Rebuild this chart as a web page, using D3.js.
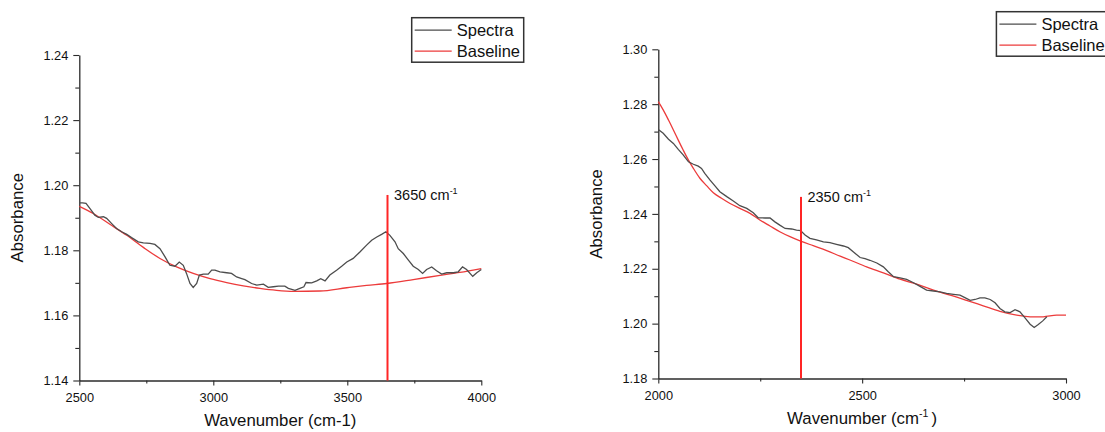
<!DOCTYPE html>
<html>
<head>
<meta charset="utf-8">
<script src="https://cdn.jsdelivr.net/npm/d3@7"></script>
<style>
  body { margin: 0; background: #fff; }
  svg { font-family: "Liberation Sans", Arial, sans-serif; }
</style>
</head>
<body>
<svg id="chart" width="1105" height="432"></svg>
<script>
const leftSpectra = [[2500,1.1946],[2512,1.1946],[2525,1.1944],[2540,1.1928],[2558,1.1908],[2571,1.1901],[2590,1.1903],[2602,1.1898],[2621,1.1882],[2639,1.1867],[2658,1.1857],[2677,1.1849],[2695,1.1839],[2720,1.1826],[2739,1.1823],[2764,1.1821],[2782,1.1818],[2801,1.1805],[2820,1.178],[2838,1.1754],[2857,1.1751],[2873,1.1764],[2888,1.1754],[2900,1.1729],[2913,1.1698],[2925,1.1686],[2938,1.1698],[2948,1.1724],[2963,1.1727],[2981,1.1727],[2994,1.1739],[3006,1.1739],[3025,1.1734],[3050,1.1731],[3068,1.1729],[3087,1.1718],[3106,1.1713],[3118,1.171],[3143,1.1698],[3162,1.1693],[3187,1.1696],[3205,1.1686],[3224,1.1688],[3243,1.169],[3267,1.169],[3280,1.1683],[3305,1.1677],[3323,1.1683],[3338,1.1688],[3346,1.1701],[3367,1.17],[3386,1.1706],[3401,1.1713],[3417,1.1706],[3435,1.1724],[3460,1.1739],[3479,1.1751],[3498,1.1764],[3522,1.1775],[3547,1.1795],[3572,1.1816],[3591,1.1831],[3610,1.1841],[3628,1.1849],[3644,1.1857],[3659,1.1846],[3678,1.1826],[3690,1.1805],[3709,1.179],[3728,1.177],[3746,1.1751],[3765,1.1741],[3781,1.1729],[3796,1.1741],[3815,1.1749],[3833,1.1737],[3852,1.1727],[3871,1.1731],[3896,1.1731],[3914,1.1734],[3930,1.1749],[3945,1.1741],[3968,1.172],[3983,1.1731],[4000,1.1741]];
const leftBaseline = [[2500,1.1935],[2552,1.1913],[2614,1.188],[2677,1.1846],[2739,1.1809],[2801,1.1775],[2863,1.1749],[2925,1.1729],[2988,1.1713],[3050,1.1701],[3112,1.1691],[3174,1.1683],[3236,1.1677],[3299,1.1674],[3398,1.1675],[3498,1.1685],[3572,1.1692],[3647,1.1698],[3746,1.171],[3846,1.1723],[3920,1.1732],[4000,1.1744]];

const rightSpectra = [[2000,1.2708],[2012,1.2694],[2025,1.2672],[2037,1.2657],[2049,1.2635],[2061,1.2615],[2074,1.259],[2086,1.2581],[2098,1.2574],[2106,1.2566],[2114,1.2548],[2127,1.2523],[2139,1.2502],[2151,1.2481],[2168,1.2463],[2184,1.2447],[2200,1.243],[2217,1.242],[2233,1.2404],[2245,1.2386],[2262,1.2385],[2274,1.2385],[2286,1.2371],[2298,1.2359],[2311,1.2347],[2327,1.2345],[2339,1.2341],[2349,1.2339],[2360,1.2323],[2372,1.2311],[2388,1.2305],[2405,1.2298],[2421,1.2295],[2437,1.2289],[2454,1.2283],[2466,1.2277],[2478,1.2262],[2495,1.2241],[2507,1.2237],[2519,1.2231],[2536,1.2221],[2552,1.2207],[2564,1.2189],[2577,1.2171],[2593,1.2167],[2609,1.2161],[2626,1.2149],[2642,1.2136],[2658,1.2122],[2675,1.2119],[2691,1.2116],[2707,1.211],[2724,1.2107],[2740,1.2104],[2752,1.2095],[2765,1.2085],[2777,1.2088],[2789,1.2094],[2801,1.2094],[2814,1.2088],[2826,1.2076],[2838,1.2055],[2850,1.2043],[2863,1.204],[2875,1.2051],[2887,1.2043],[2899,1.2022],[2912,1.1998],[2922,1.1986],[2932,1.1997],[2943,1.201],[2953,1.2025]];
const rightBaseline = [[2000,1.2809],[2012,1.2779],[2025,1.2742],[2037,1.2706],[2049,1.2669],[2061,1.2633],[2074,1.2596],[2086,1.2566],[2102,1.253],[2119,1.2502],[2135,1.2477],[2155,1.2457],[2176,1.2438],[2200,1.242],[2225,1.2402],[2249,1.2378],[2274,1.2356],[2298,1.2335],[2323,1.2317],[2349,1.2301],[2380,1.2284],[2413,1.2266],[2446,1.2246],[2470,1.2232],[2511,1.2207],[2552,1.2185],[2593,1.2162],[2634,1.2144],[2675,1.2122],[2716,1.2104],[2756,1.2085],[2797,1.2065],[2838,1.2045],[2879,1.2031],[2912,1.2025],[2944,1.2025],[2977,1.2031],[3000,1.2031]];

const leftXTicks = [2500, 3000, 3500, 4000];
const leftXMinor = [2750, 3250, 3750];
const leftYTicks = [1.14, 1.16, 1.18, 1.20, 1.22, 1.24];
const leftYMinor = [1.15, 1.17, 1.19, 1.21, 1.23];
const rightXTicks = [2000, 2500, 3000];
const rightXMinor = [2250, 2750];
const rightYTicks = [1.18, 1.20, 1.22, 1.24, 1.26, 1.28, 1.30];
const rightYMinor = [1.19, 1.21, 1.23, 1.25, 1.27, 1.29];

const leftMarker = { x: 3650, top: 1.197, label: '3650 cm' };
const rightMarker = { x: 2350, top: 1.2462, label: '2350 cm' };
const legendNames = ['Spectra', 'Baseline'];

const svg = d3.select('#chart');
const spectraColor = '#4d4d4d';
const baseColor = '#ec3b3b';
const markColor = '#ff2525';
const axisColor = '#2b2b2b';

function panel(opt) {
    const x = d3.scaleLinear().domain(opt.xDomain).range(opt.xRange);
    const y = d3.scaleLinear().domain(opt.yDomain).range(opt.yRange);
    const g = svg.append('g');

    // minor ticks first, majors with labels on top
    g.append('g')
        .attr('transform', `translate(0,${opt.yRange[0]})`)
        .call(d3.axisBottom(x).tickValues(opt.xMinor).tickSize(3).tickFormat(''))
        .call(a => a.select('.domain').remove());
    g.append('g')
        .attr('transform', `translate(${opt.xRange[0]},0)`)
        .call(d3.axisLeft(y).tickValues(opt.yMinor).tickSize(4).tickFormat(''))
        .call(a => a.select('.domain').remove());

    const xa = g.append('g')
        .attr('transform', `translate(0,${opt.yRange[0]})`)
        .call(d3.axisBottom(x).tickValues(opt.xTicks).tickSize(5).tickSizeOuter(0).tickPadding(7).tickFormat(d3.format('d')));
    const ya = g.append('g')
        .attr('transform', `translate(${opt.xRange[0]},0)`)
        .call(d3.axisLeft(y).tickValues(opt.yTicks).tickSize(6).tickSizeOuter(0).tickPadding(5).tickFormat(d3.format('.2f')));

    g.selectAll('.tick line').attr('stroke', axisColor).attr('stroke-width', 1.1);
    g.selectAll('.domain').attr('stroke', axisColor).attr('stroke-width', 1.3);
    g.selectAll('.tick text').attr('font-size', 12.8).attr('fill', '#111')
        .attr('font-family', '"Liberation Sans", Arial, sans-serif');

    const line = d3.line().x(d => x(d[0])).y(d => y(d[1]));
    const smooth = d3.line().x(d => x(d[0])).y(d => y(d[1])).curve(d3.curveMonotoneX);

    g.append('path').datum(opt.baseline)
        .attr('d', smooth).attr('fill', 'none')
        .attr('stroke', baseColor).attr('stroke-width', 1.3);
    g.append('path').datum(opt.spectra)
        .attr('d', line).attr('fill', 'none')
        .attr('stroke', spectraColor).attr('stroke-width', 1.3);

    // marker line at the band
    g.append('line')
        .attr('x1', x(opt.marker.x)).attr('x2', x(opt.marker.x))
        .attr('y1', y(opt.marker.top)).attr('y2', opt.yRange[0])
        .attr('stroke', markColor).attr('stroke-width', 2);
    const lab = g.append('text')
        .attr('x', x(opt.marker.x) + 6.5)
        .attr('y', y(opt.marker.top) + 5.5)
        .attr('font-size', 14.5).attr('fill', '#111');
    lab.append('tspan').text(opt.marker.label);
    lab.append('tspan').attr('font-size', 9).attr('dy', -6).text('-1');

    // axis titles
    g.append('text')
        .attr('transform', `translate(${opt.xRange[0] - 56},${(opt.yRange[0] + opt.yRange[1]) / 2}) rotate(-90)`)
        .attr('text-anchor', 'middle').attr('font-size', 16.8).attr('fill', '#111')
        .text('Absorbance');
    const xt = g.append('text')
        .attr('x', (opt.xRange[0] + opt.xRange[1]) / 2).attr('y', opt.yRange[0] + 45)
        .attr('text-anchor', 'middle').attr('font-size', 16.8).attr('fill', '#111');
    if (opt.superTitle) {
        xt.append('tspan').text('Wavenumber (cm');
        xt.append('tspan').attr('font-size', 10.5).attr('dy', -7).text('-1');
        xt.append('tspan').attr('dy', 7).text('\u2009)');
    } else {
        xt.text('Wavenumber (cm-1)');
    }

    // legend
    const lg = g.append('g').attr('transform', `translate(${opt.legend[0]},${opt.legend[1]})`);
    lg.append('rect').attr('width', 112).attr('height', 44.5)
        .attr('fill', '#fff').attr('stroke', '#333').attr('stroke-width', 1.5);
    [spectraColor, baseColor].forEach((c, i) => {
        lg.append('line').attr('x1', 3).attr('x2', 40)
            .attr('y1', 12.5 + i * 21).attr('y2', 12.5 + i * 21)
            .attr('stroke', c).attr('stroke-width', 1.2);
        lg.append('text').attr('x', 45).attr('y', 18.5 + i * 20.5)
            .attr('font-size', 16.5).attr('fill', '#111').text(legendNames[i]);
    });
}

panel({
    xDomain: [2500, 4000], xRange: [79.3, 481.3],
    yDomain: [1.14, 1.24], yRange: [380.5, 55],
    xTicks: leftXTicks, xMinor: leftXMinor, yTicks: leftYTicks, yMinor: leftYMinor,
    spectra: leftSpectra, baseline: leftBaseline, marker: leftMarker,
    legend: [411.7, 17.7], superTitle: false
});

panel({
    xDomain: [2000, 3000], xRange: [658.3, 1066],
    yDomain: [1.18, 1.30], yRange: [378.5, 49.3],
    xTicks: rightXTicks, xMinor: rightXMinor, yTicks: rightYTicks, yMinor: rightYMinor,
    spectra: rightSpectra, baseline: rightBaseline, marker: rightMarker,
    legend: [996.4, 11.7], superTitle: true
});
</script>
</body>
</html>
